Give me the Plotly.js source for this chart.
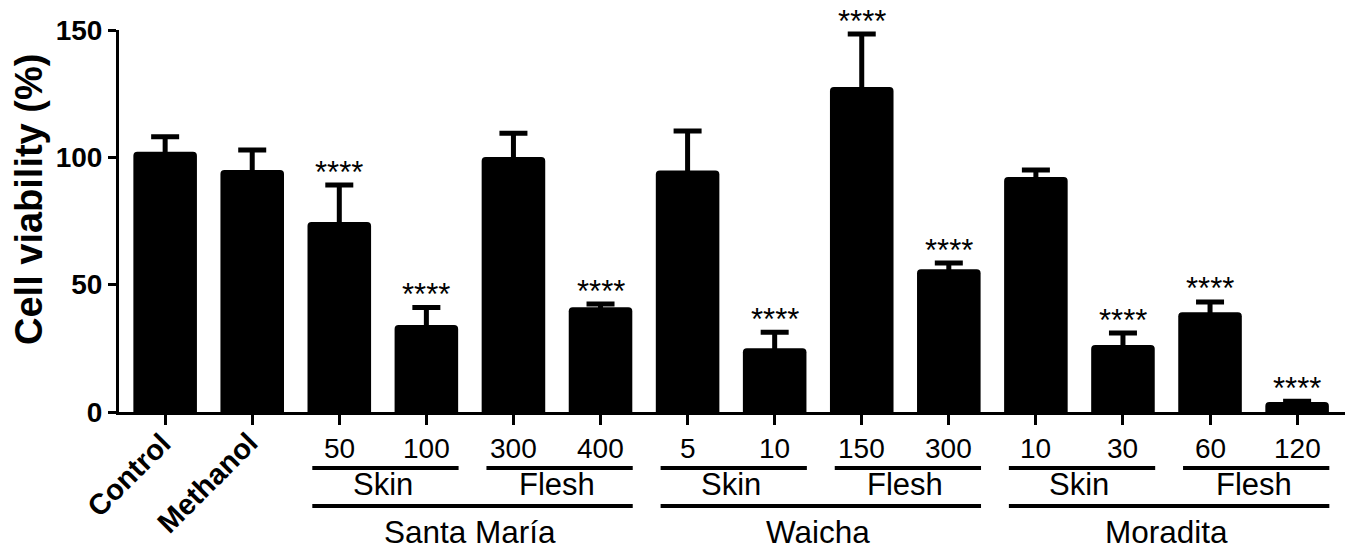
<!DOCTYPE html>
<html>
<head>
<meta charset="utf-8">
<script src="https://cdn.plot.ly/plotly-3.0.1.min.js"></script>
<style>html,body{margin:0;padding:0;background:#fff;}#chart{width:1350px;height:549px;}</style>
</head>
<body>
<div id="chart"></div>
<script>
// ---- data ----
const categories = ["Control","Methanol","50","100","300","400","5","10","150","300","10","30","60","120"];
const viability  = [102.2, 95.0, 74.6, 34.2, 100.1, 41.1, 94.8, 25.0, 127.6, 56.1, 92.3, 26.3, 39.2, 3.9];
const sdUpper    = [5.9, 7.9, 14.5, 6.8, 9.4, 1.3, 15.5, 6.3, 20.8, 2.4, 2.7, 4.7, 4.0, 0.3];
const significant = [false,false,true,true,false,true,false,true,true,true,false,true,true,true];
const rotatedLabels = ["Control","Methanol"];
const doseLabels = ["","","50","100","300","400","5","10","150","300","10","30","60","120"];
const tissueGroups = [
  {name:"Skin", from:2, to:3},{name:"Flesh", from:4, to:5},
  {name:"Skin", from:6, to:7},{name:"Flesh", from:8, to:9},
  {name:"Skin", from:10, to:11},{name:"Flesh", from:12, to:13}
];
const varietyGroups = [
  {name:"Santa María", from:2, to:5},
  {name:"Waicha", from:6, to:9},
  {name:"Moradita", from:10, to:13}
];
const starText = "****";
const yTitle = "Cell viability (%)";

// ---- build ----
const xs = categories.map((c,i)=>i);
const FONT = "Liberation Sans, Arial, Helvetica, sans-serif";

const trace = {
  type:"bar", x:xs, y:viability, width:0.73,
  marker:{color:"#000", line:{width:0}, cornerradius:4},
  error_y:{type:"data", symmetric:true, array:sdUpper,
           color:"#000", thickness:5, width:14},
  hoverinfo:"none"
};

const annotations = [];
const shapes = [];
xs.forEach(i=>{
  if(significant[i]){
    annotations.push({x:i, y:viability[i]+sdUpper[i], xref:"x", yref:"y", text:starText,
      showarrow:false, xanchor:"center", yanchor:"middle", yshift:13,
      font:{family:FONT, size:31, color:"#000"}});
  }
  if(doseLabels[i]){
    annotations.push({x:i, y:0, xref:"x", yref:"paper", text:doseLabels[i], showarrow:false,
      xanchor:"center", yanchor:"middle", yshift:-36, font:{family:FONT, size:28, color:"#000"}});
  }
  if(i < rotatedLabels.length){
    annotations.push({x:i, y:0, xref:"x", yref:"paper", text:"<b>"+rotatedLabels[i]+"</b>",
      showarrow:false, textangle:-45, xanchor:"right", yanchor:"top", xshift:14, yshift:-12,
      font:{family:FONT, size:29, color:"#000"}});
  }
});
tissueGroups.forEach(g=>{
  annotations.push({x:(g.from+g.to)/2, y:0, xref:"x", yref:"paper", text:g.name, showarrow:false,
    xanchor:"center", yanchor:"middle", yshift:-72, font:{family:FONT, size:31, color:"#000"}});
  shapes.push({type:"line", xref:"x", yref:"paper", x0:g.from-0.31, x1:g.to+0.37,
    y0:-0.1466, y1:-0.1466, line:{color:"#000", width:4}});
});
varietyGroups.forEach(g=>{
  annotations.push({x:(g.from+g.to)/2, y:0, xref:"x", yref:"paper", text:g.name, showarrow:false,
    xanchor:"center", yanchor:"middle", yshift:-120, font:{family:FONT, size:31.5, color:"#000"}});
  shapes.push({type:"line", xref:"x", yref:"paper", x0:g.from-0.31, x1:g.to+0.37,
    y0:-0.246, y1:-0.246, line:{color:"#000", width:4}});
});
annotations.push({xref:"paper", yref:"paper", x:0, y:0.555, xshift:-90, text:"<b>"+yTitle+"</b>",
  textangle:-90, showarrow:false, xanchor:"center", yanchor:"middle",
  font:{family:FONT, size:38, color:"#000"}});

const layout = {
  width:1350, height:549,
  margin:{l:119, r:5, t:30, b:137},
  paper_bgcolor:"#fff", plot_bgcolor:"#fff",
  showlegend:false,
  xaxis:{range:[-0.53, 13.55], tickmode:"array", tickvals:xs, ticktext:xs.map(()=>""),
    ticks:"outside", ticklen:10, tickwidth:3, tickcolor:"#000",
    showline:true, linecolor:"#000", linewidth:3, showgrid:false, zeroline:false, fixedrange:true},
  yaxis:{range:[0,150], tickvals:[0,50,100,150], ticks:"outside", ticklen:8, tickwidth:3,
    tickcolor:"#000", showline:true, linecolor:"#000", linewidth:3, showgrid:false, zeroline:false,
    tickfont:{family:FONT, size:28, color:"#000", weight:"bold"}, fixedrange:true},
  annotations, shapes
};

Plotly.newPlot("chart", [trace], layout, {displayModeBar:false, staticPlot:true});
</script>
</body>
</html>
